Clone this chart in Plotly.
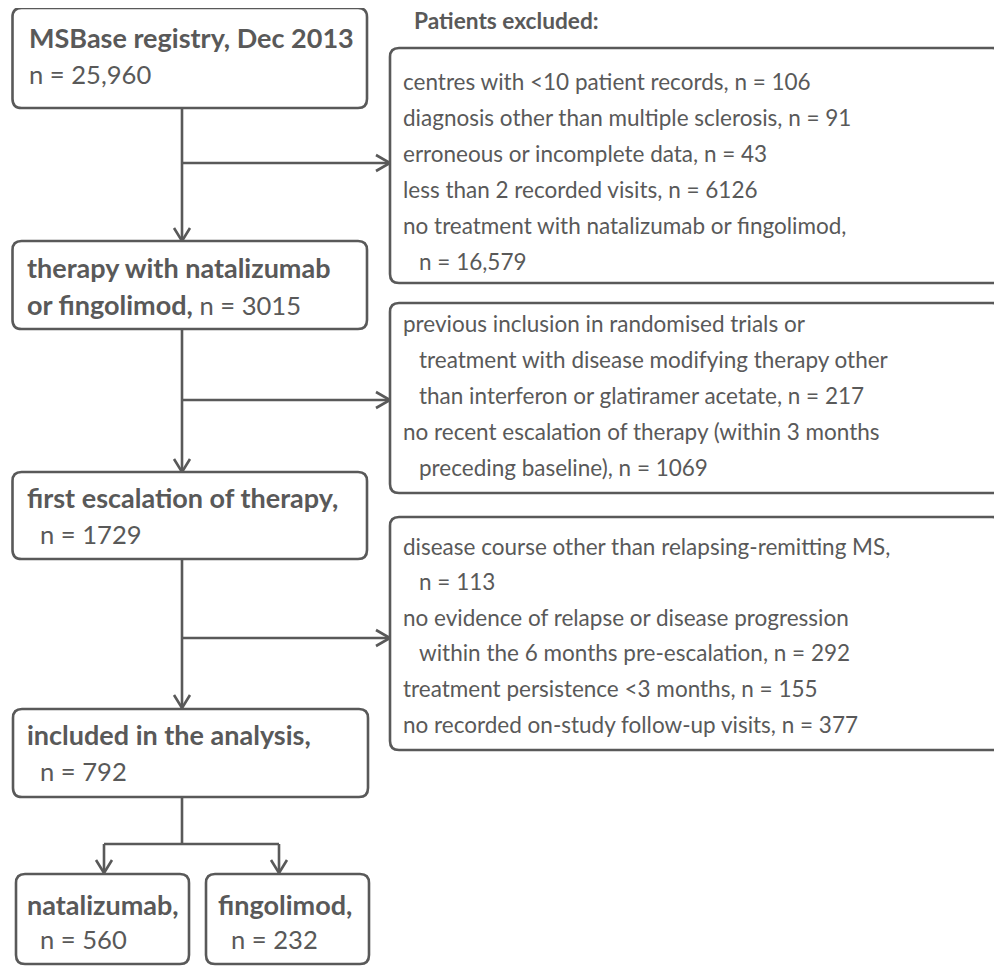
import plotly.graph_objects as go

# ---------------- data ----------------
step_labels = ["MSBase registry, Dec 2013",
               "therapy with natalizumab",
               "first escalation of therapy,",
               "included in the analysis,",
               "natalizumab,",
               "fingolimod,"]
step_counts = ["25,960", "3015", "1729", "792", "560", "232"]
step2_second_line = "or fingolimod,"

excluded_title = "Patients excluded:"
excl_block1 = [("centres with <10 patient records, n = 106", 0),
               ("diagnosis other than multiple sclerosis, n = 91", 0),
               ("erroneous or incomplete data, n = 43", 0),
               ("less than 2 recorded visits, n = 6126", 0),
               ("no treatment with natalizumab or fingolimod,", 0),
               ("n = 16,579", 1)]
excl_block2 = [("previous inclusion in randomised trials or", 0),
               ("treatment with disease modifying therapy other", 1),
               ("than interferon or glatiramer acetate, n = 217", 1),
               ("no recent escalation of therapy (within 3 months", 0),
               ("preceding baseline), n = 1069", 1)]
excl_block3 = [("disease course other than relapsing-remitting MS,", 0),
               ("n = 113", 1),
               ("no evidence of relapse or disease progression", 0),
               ("within the 6 months pre-escalation, n = 292", 1),
               ("treatment persistence <3 months, n = 155", 0),
               ("no recorded on-study follow-up visits, n = 377", 0)]

# ---------------- style ----------------
W, H = 1002, 968
OFF = 8  # page body margin
COL = "#595959"
LW = 2.6
FONT = "Lato"
FS_R = 22.5      # right-hand text
FS_L = 25.6      # left-hand regular text
FS_LB = 27.0     # left-hand bold text
FS_T = 22.7      # title

fig = go.Figure()
shapes = []
annotations = []


def rrect(x0, y0, x1, y1, r=9):
    p = (f"M {x0+r},{y0} L {x1-r},{y0} Q {x1},{y0} {x1},{y0+r} "
         f"L {x1},{y1-r} Q {x1},{y1} {x1-r},{y1} L {x0+r},{y1} "
         f"Q {x0},{y1} {x0},{y1-r} L {x0},{y0+r} Q {x0},{y0} {x0+r},{y0} Z")
    shapes.append(dict(type="path", path=p, line=dict(color=COL, width=LW),
                       fillcolor="white", xref="x", yref="y", layer="above"))


def line(x0, y0, x1, y1):
    shapes.append(dict(type="line", x0=x0, y0=y0, x1=x1, y1=y1,
                       line=dict(color=COL, width=LW), xref="x", yref="y"))


def head_down(x, y, hw=8, hl=13):
    p = f"M {x-hw},{y-hl} L {x},{y} L {x+hw},{y-hl}"
    shapes.append(dict(type="path", path=p, line=dict(color=COL, width=LW), xref="x", yref="y"))


def head_right(x, y, hw=8, hl=14):
    p = f"M {x-hl},{y-hw} L {x},{y} L {x-hl},{y+hw}"
    shapes.append(dict(type="path", path=p, line=dict(color=COL, width=LW), xref="x", yref="y"))


def text(x, y, s, size):
    annotations.append(dict(x=x, y=y, xref="x", yref="y", text=s,
                            showarrow=False, xanchor="left", yanchor="middle",
                            font=dict(family=FONT, size=size, color=COL)))


def bold_span(s):
    return f"<b><span style='font-size:{FS_LB}px'>{s}</span></b>"


# ---------------- connectors ----------------
TX = 182
line(TX, 108, TX, 241); head_down(TX, 241)
line(TX, 163, 390, 163); head_right(390, 163)
line(TX, 329, TX, 472); head_down(TX, 472)
line(TX, 400, 390, 400); head_right(390, 400)
line(TX, 559, TX, 708); head_down(TX, 708)
line(TX, 638, 390, 638); head_right(390, 638)
line(TX, 797, TX, 844)
line(104, 844, 279, 844)
line(104, 844, 104, 873); head_down(104, 873)
line(279, 844, 279, 873); head_down(279, 873)

# ---------------- left boxes ----------------
rrect(12.5, 8, 367, 108)
text(27, 37, f"<b>{step_labels[0]}</b>", FS_LB)
text(27, 74, f"n = {step_counts[0]}", FS_L)

rrect(12.5, 241, 367, 329)
text(25, 267, f"<b>{step_labels[1]}</b>", FS_LB)
text(25, 304, f"{bold_span(step2_second_line)} n = {step_counts[1]}", FS_L)

rrect(12.5, 472, 367, 559)
text(25, 497, f"<b>{step_labels[2]}</b>", FS_LB)
text(38, 534, f"n = {step_counts[2]}", FS_L)

rrect(13, 709, 368, 797)
text(25, 734, f"<b>{step_labels[3]}</b>", FS_LB)
text(38, 771, f"n = {step_counts[3]}", FS_L)

rrect(16, 874, 189, 964)
text(25, 904, f"<b>{step_labels[4]}</b>", FS_LB)
text(38, 939, f"n = {step_counts[4]}", FS_L)

rrect(206, 874, 369, 964)
text(216, 904, f"<b>{step_labels[5]}</b>", FS_LB)
text(229, 939, f"n = {step_counts[5]}", FS_L)

# ---------------- right boxes ----------------
text(412, 20, f"<b>{excluded_title}</b>", FS_T)


def block(lines, y_top, step, box):
    rrect(*box)
    for i, (s, ind) in enumerate(lines):
        text(401 + 16 * ind, y_top + step * i, s, FS_R)


block(excl_block1, 81, 36, (390, 48, 1001, 283))
block(excl_block2, 323, 36, (390, 303, 1001, 493))
block(excl_block3, 546, 35.6, (390, 517, 1001, 750))

fig.update_layout(
    width=W - OFF, height=H - OFF, margin=dict(l=0, r=0, t=0, b=0),
    paper_bgcolor="white", plot_bgcolor="white",
    xaxis=dict(range=[OFF, W], visible=False, fixedrange=True),
    yaxis=dict(range=[H, OFF], visible=False, fixedrange=True),
    shapes=shapes, annotations=annotations, showlegend=False,
)
fig.write_html("out.html")
